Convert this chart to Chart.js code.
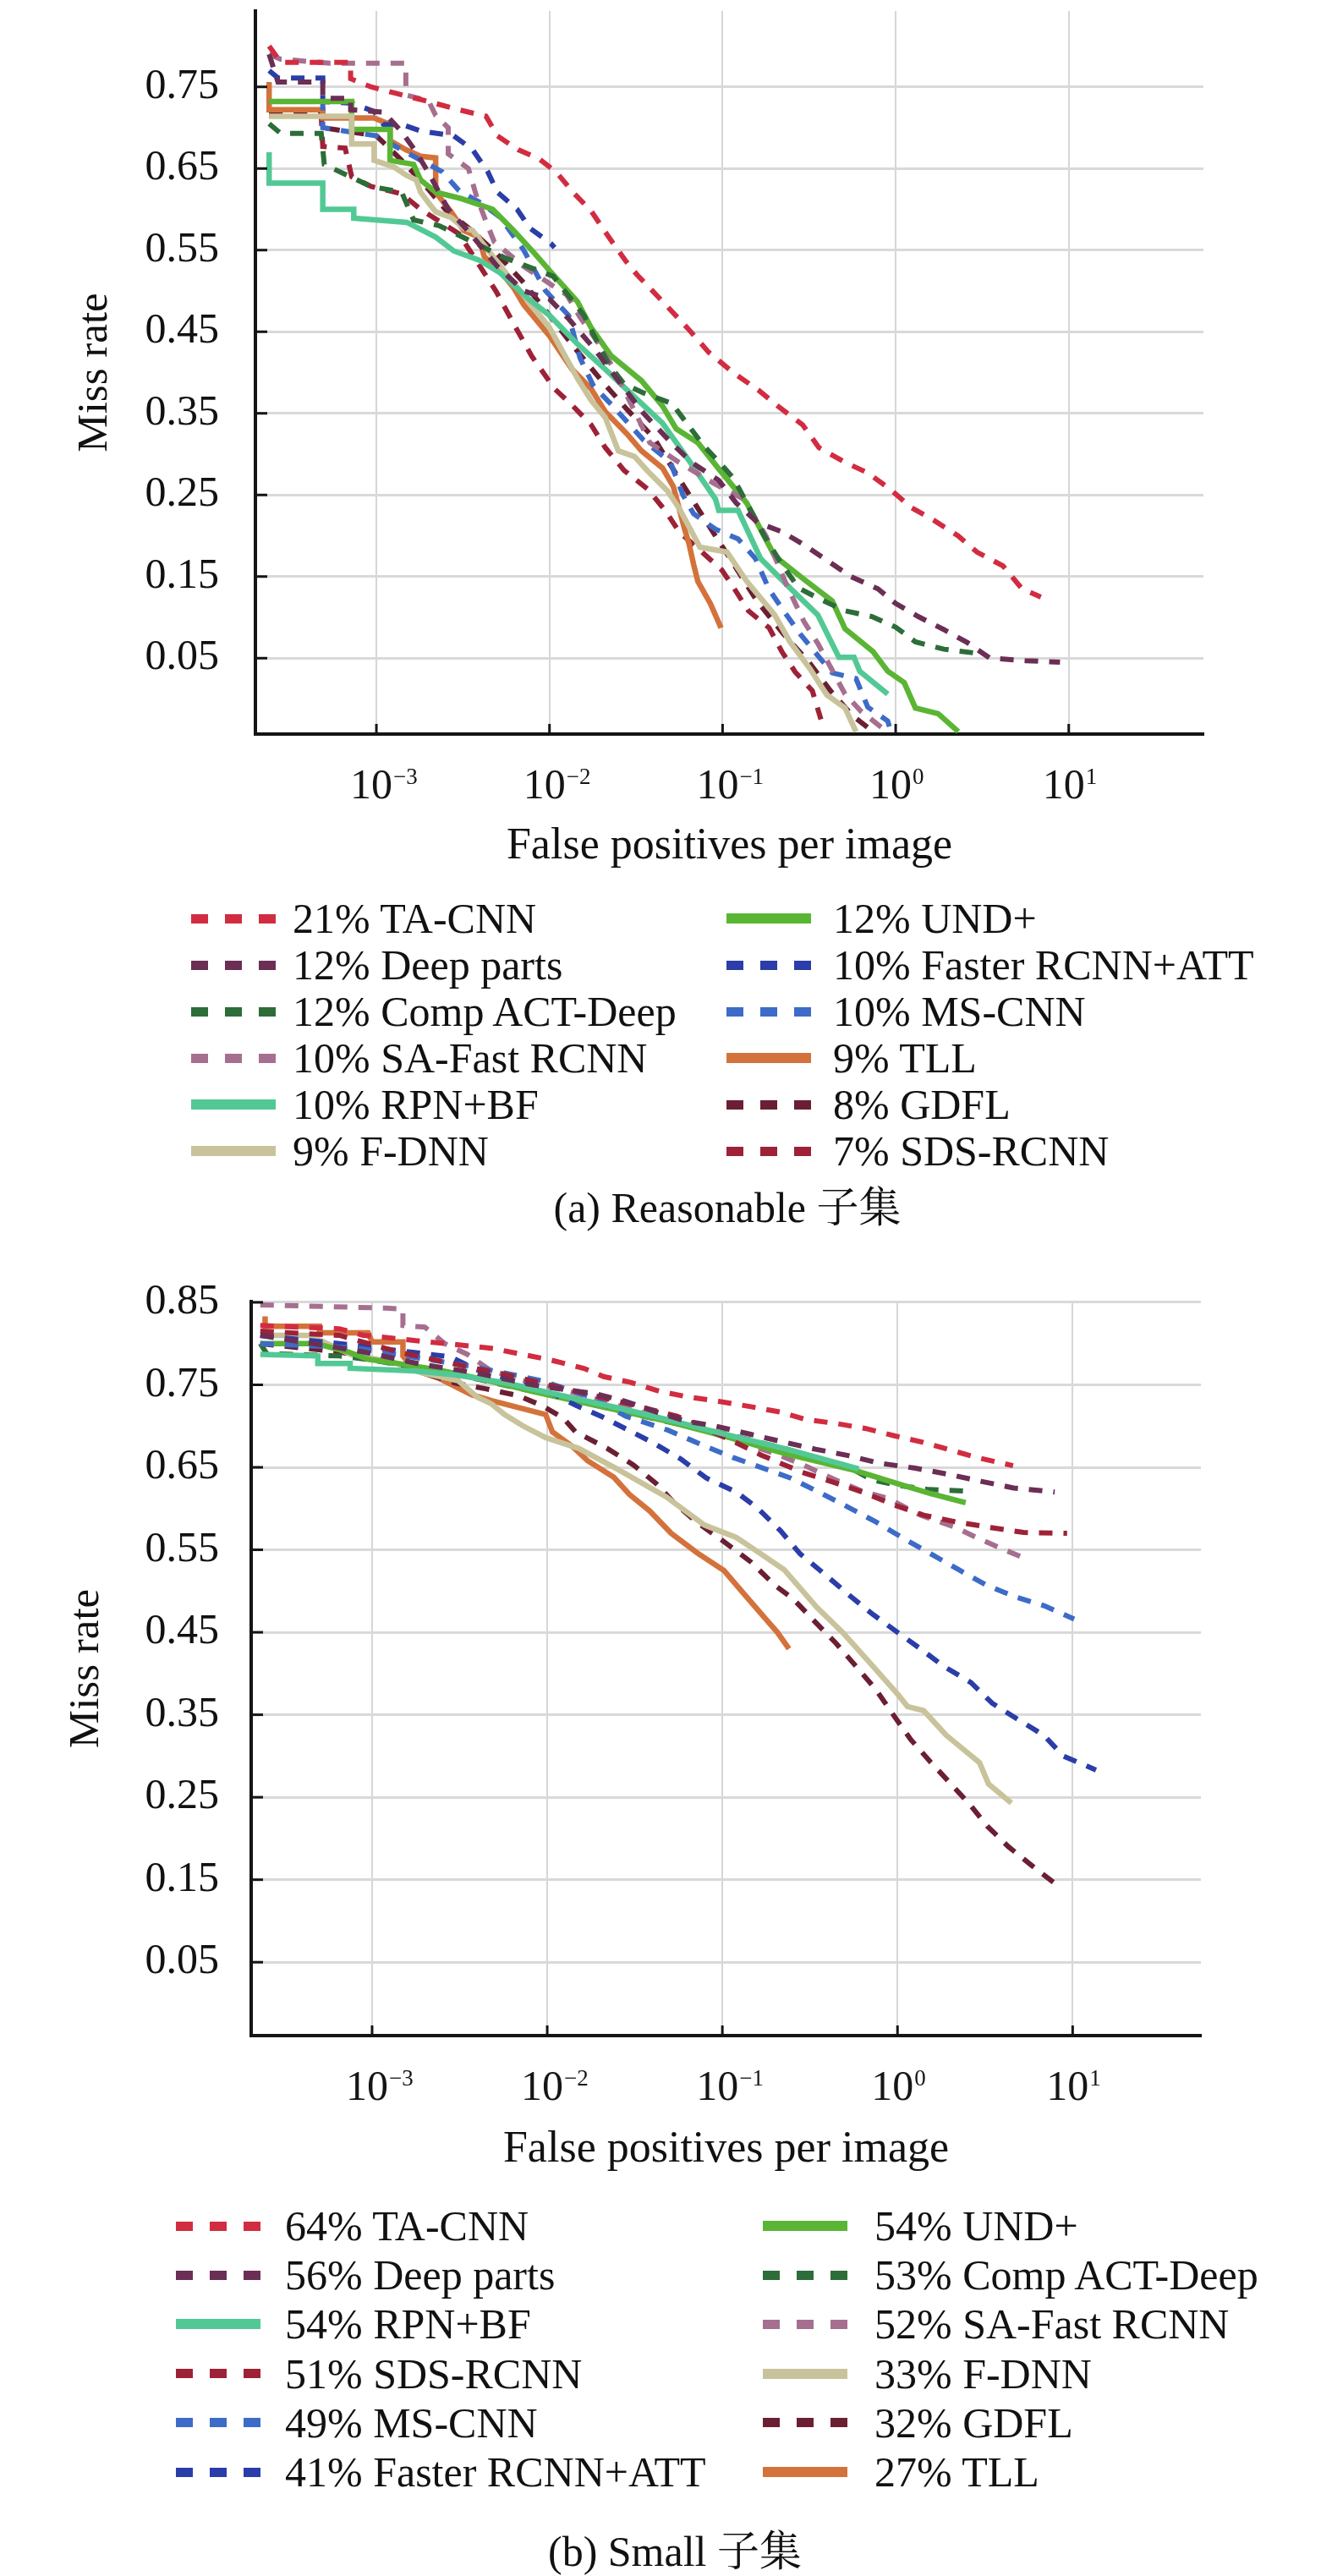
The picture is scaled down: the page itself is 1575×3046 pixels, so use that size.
<!DOCTYPE html>
<html>
<head>
<meta charset="utf-8">
<script src="https://cdn.jsdelivr.net/npm/chart.js@4.4.1/dist/chart.umd.min.js"></script>
<style>
  body { margin: 0; background: #fff; }
  #page { position: relative; width: 1575px; height: 3046px; overflow: hidden;
          font-family: "Liberation Serif", "Times New Roman", "Noto Serif CJK SC", "Noto Sans CJK SC", serif; color: #111; }
  .plot { position: absolute; left: 0; }
  .txt { position: absolute; height: 60px; line-height: 60px; font-size: 50px; white-space: nowrap; }
  .cap { transform: translateX(-50%); }
</style>
</head>
<body>
<div id="page">
  <div class="plot" style="top:0"><canvas id="reasonable" width="1575" height="1040"></canvas></div>
  <div class="plot" style="top:1500px"><canvas id="small" width="1575" height="1100"></canvas></div>
</div>
<script>
// ---- tick values / labels ----
const xTickVals = [0.001, 0.01, 0.1, 1, 10];
const xTickBase = '10';
const xTickExps = ['\u22123', '\u22122', '\u22121', '0', '1'];
const reasonableYTicks = [0.05, 0.15, 0.25, 0.35, 0.45, 0.55, 0.65, 0.75];
const smallYTicks = [0.05, 0.15, 0.25, 0.35, 0.45, 0.55, 0.65, 0.75, 0.85];

// ---- (a) Reasonable subset: [false positives per image, miss rate] ----
const rTaCnn = [[0.00024,0.80],[0.00028,0.78],[0.00071,0.78],[0.00071,0.76],[0.00093,0.75],[0.0013,0.742],[0.002,0.732],[0.003,0.722],[0.0043,0.714],[0.005,0.69],[0.0066,0.673],[0.0087,0.662],[0.011,0.645],[0.0138,0.62],[0.0174,0.598],[0.022,0.566],[0.0275,0.537],[0.032,0.52],[0.046,0.485],[0.063,0.454],[0.083,0.425],[0.115,0.40],[0.162,0.378],[0.214,0.357],[0.29,0.336],[0.36,0.308],[0.51,0.29],[0.69,0.277],[0.93,0.257],[1.22,0.235],[1.66,0.219],[2.29,0.20],[2.95,0.18],[4.17,0.163],[5.37,0.135],[6.9,0.125]];
const rDeepParts = [[0.00024,0.79],[0.00027,0.756],[0.00049,0.756],[0.00049,0.736],[0.00071,0.736],[0.00071,0.722],[0.0011,0.719],[0.0014,0.695],[0.0017,0.67],[0.002,0.645],[0.0026,0.60],[0.0035,0.57],[0.005,0.53],[0.0071,0.50],[0.01,0.49],[0.013,0.465],[0.018,0.43],[0.025,0.39],[0.035,0.35],[0.05,0.315],[0.066,0.29],[0.095,0.268],[0.12,0.24],[0.16,0.216],[0.22,0.205],[0.3,0.188],[0.4,0.17],[0.55,0.15],[0.79,0.135],[1.0,0.117],[1.35,0.101],[1.9,0.085],[2.6,0.069],[3.5,0.05],[5.6,0.047],[8.9,0.045]];
const rCompAct = [[0.00024,0.705],[0.00028,0.693],[0.00048,0.693],[0.0005,0.655],[0.00093,0.628],[0.0014,0.621],[0.00164,0.587],[0.0023,0.58],[0.0036,0.56],[0.0056,0.54],[0.0105,0.518],[0.0158,0.47],[0.022,0.41],[0.027,0.386],[0.035,0.375],[0.051,0.362],[0.078,0.31],[0.093,0.293],[0.116,0.27],[0.174,0.20],[0.22,0.165],[0.275,0.136],[0.36,0.123],[0.51,0.108],[0.73,0.101],[1.0,0.088],[1.3,0.07],[1.9,0.061],[2.95,0.056]];
const rSaFast = [[0.00024,0.79],[0.00028,0.784],[0.00054,0.779],[0.00148,0.779],[0.00148,0.74],[0.002,0.733],[0.0022,0.715],[0.0026,0.70],[0.0026,0.668],[0.0034,0.65],[0.0038,0.615],[0.0043,0.585],[0.0048,0.56],[0.0071,0.53],[0.0126,0.495],[0.015,0.468],[0.019,0.437],[0.023,0.408],[0.032,0.347],[0.038,0.314],[0.056,0.29],[0.091,0.263],[0.132,0.245],[0.178,0.20],[0.234,0.14],[0.295,0.095],[0.355,0.068],[0.51,0.006],[0.63,-0.015],[0.89,-0.04]];
const rRpnBf = [[0.00024,0.67],[0.00024,0.632],[0.00049,0.632],[0.00049,0.60],[0.00074,0.60],[0.00074,0.589],[0.0015,0.584],[0.0022,0.566],[0.0028,0.549],[0.0039,0.538],[0.0052,0.522],[0.0076,0.49],[0.01,0.47],[0.0145,0.435],[0.021,0.404],[0.031,0.37],[0.045,0.338],[0.065,0.29],[0.091,0.245],[0.095,0.231],[0.123,0.231],[0.13,0.22],[0.166,0.172],[0.24,0.138],[0.355,0.103],[0.47,0.051],[0.575,0.051],[0.62,0.034],[0.9,0.006]];
const rFdnn = [[0.00024,0.714],[0.00072,0.714],[0.00072,0.68],[0.00097,0.68],[0.00097,0.66],[0.00126,0.652],[0.00148,0.642],[0.0017,0.636],[0.0018,0.621],[0.002,0.608],[0.0022,0.597],[0.0027,0.59],[0.0032,0.577],[0.0036,0.574],[0.0057,0.52],[0.01,0.455],[0.0145,0.393],[0.0174,0.366],[0.021,0.345],[0.025,0.304],[0.031,0.297],[0.037,0.279],[0.048,0.255],[0.056,0.234],[0.074,0.186],[0.106,0.18],[0.137,0.145],[0.2,0.103],[0.245,0.07],[0.32,0.037],[0.4,0.005],[0.51,-0.011],[0.59,-0.04]];
const rUnd = [[0.00024,0.732],[0.00072,0.732],[0.00072,0.698],[0.0012,0.698],[0.0012,0.66],[0.00164,0.655],[0.0018,0.636],[0.0022,0.621],[0.0031,0.613],[0.0047,0.60],[0.0062,0.574],[0.0082,0.546],[0.01,0.525],[0.0145,0.487],[0.0174,0.455],[0.0226,0.421],[0.034,0.39],[0.045,0.359],[0.054,0.331],[0.072,0.314],[0.095,0.282],[0.138,0.24],[0.2,0.175],[0.29,0.148],[0.43,0.12],[0.51,0.086],[0.74,0.058],[0.9,0.034],[1.12,0.02],[1.3,-0.011],[1.76,-0.018],[2.3,-0.04]];
const rFasterAtt = [[0.00024,0.77],[0.00027,0.761],[0.00049,0.761],[0.00049,0.732],[0.00072,0.73],[0.00097,0.72],[0.0011,0.704],[0.0014,0.704],[0.0018,0.696],[0.0028,0.69],[0.0036,0.673],[0.0044,0.646],[0.005,0.621],[0.0065,0.60],[0.0077,0.577],[0.0102,0.558],[0.0107,0.553]];
const rMsCnn = [[0.00024,0.732],[0.00049,0.732],[0.00049,0.70],[0.001,0.69],[0.0017,0.663],[0.0024,0.646],[0.003,0.623],[0.004,0.608],[0.0052,0.59],[0.0071,0.55],[0.0095,0.50],[0.0129,0.47],[0.015,0.418],[0.018,0.383],[0.023,0.36],[0.035,0.317],[0.05,0.29],[0.059,0.25],[0.068,0.227],[0.091,0.208],[0.123,0.196],[0.155,0.172],[0.186,0.134],[0.234,0.103],[0.28,0.08],[0.34,0.058],[0.43,0.032],[0.59,0.025],[0.69,-0.01],[0.9,-0.027],[0.95,-0.044]];
const rTll = [[0.00024,0.756],[0.00024,0.722],[0.00049,0.722],[0.00049,0.712],[0.00097,0.712],[0.0012,0.704],[0.0012,0.684],[0.00148,0.673],[0.0018,0.665],[0.0022,0.663],[0.0022,0.621],[0.0027,0.597],[0.0032,0.574],[0.0039,0.566],[0.0042,0.542],[0.005,0.528],[0.0062,0.504],[0.0071,0.483],[0.01,0.445],[0.0135,0.404],[0.0174,0.38],[0.021,0.352],[0.028,0.325],[0.034,0.304],[0.045,0.283],[0.052,0.26],[0.056,0.234],[0.06,0.21],[0.064,0.19],[0.068,0.165],[0.072,0.144],[0.085,0.117],[0.098,0.087]];
const rGdfl = [[0.00024,0.72],[0.00049,0.72],[0.00049,0.70],[0.001,0.69],[0.0014,0.66],[0.0019,0.63],[0.0025,0.60],[0.0035,0.575],[0.005,0.545],[0.0071,0.51],[0.01,0.47],[0.014,0.43],[0.02,0.39],[0.028,0.355],[0.04,0.32],[0.056,0.27],[0.079,0.22],[0.112,0.17],[0.158,0.12],[0.224,0.08],[0.316,0.045],[0.42,0.01],[0.56,-0.02],[0.74,-0.04]];
const rSdsRcnn = [[0.00024,0.715],[0.00048,0.715],[0.00049,0.677],[0.00066,0.675],[0.00072,0.64],[0.00093,0.628],[0.0014,0.619],[0.0018,0.60],[0.003,0.57],[0.0049,0.50],[0.0062,0.46],[0.0079,0.42],[0.0107,0.38],[0.0135,0.36],[0.0174,0.336],[0.021,0.308],[0.027,0.28],[0.037,0.257],[0.047,0.23],[0.056,0.205],[0.076,0.18],[0.099,0.158],[0.117,0.135],[0.141,0.108],[0.186,0.087],[0.22,0.058],[0.263,0.033],[0.33,0.01],[0.37,-0.025]];

const reasonableNames = ['TA-CNN', 'Deep parts', 'Comp ACT-Deep', 'SA-Fast RCNN', 'RPN+BF', 'F-DNN',
                         'UND+', 'Faster RCNN+ATT', 'MS-CNN', 'TLL', 'GDFL', 'SDS-RCNN'];
const reasonableRates = [21, 12, 12, 10, 10, 9, 12, 10, 10, 9, 8, 7];
const reasonableSeries = [rTaCnn, rDeepParts, rCompAct, rSaFast, rRpnBf, rFdnn,
                          rUnd, rFasterAtt, rMsCnn, rTll, rGdfl, rSdsRcnn];

// ---- (b) Small subset ----
const sTaCnn = [[0.00023,0.822],[0.00065,0.818],[0.00089,0.81],[0.0014,0.806],[0.0021,0.802],[0.0033,0.798],[0.0049,0.794],[0.0072,0.787],[0.0105,0.78],[0.0162,0.77],[0.021,0.76],[0.03,0.753],[0.044,0.742],[0.065,0.735],[0.095,0.73],[0.141,0.724],[0.214,0.717],[0.30,0.708],[0.45,0.703],[0.66,0.697],[0.97,0.688],[1.36,0.681],[2.0,0.671],[2.95,0.661],[4.57,0.652]];
const sDeepParts = [[0.00023,0.81],[0.00046,0.80],[0.00089,0.79],[0.0019,0.775],[0.0038,0.765],[0.0083,0.75],[0.0129,0.744],[0.019,0.739],[0.028,0.73],[0.042,0.717],[0.062,0.706],[0.091,0.70],[0.145,0.69],[0.22,0.681],[0.34,0.672],[0.53,0.664],[0.79,0.655],[1.26,0.649],[1.9,0.642],[3.0,0.633],[4.6,0.625],[7.9,0.62]];
const sRpnBf = [[0.00023,0.787],[0.00049,0.785],[0.00049,0.776],[0.00075,0.776],[0.00075,0.77],[0.00174,0.767],[0.003,0.762],[0.0059,0.752],[0.0115,0.738],[0.028,0.72],[0.055,0.705],[0.095,0.692],[0.234,0.672],[0.6,0.648]];
const sSdsRcnn = [[0.00023,0.815],[0.00065,0.81],[0.0014,0.79],[0.003,0.775],[0.0059,0.762],[0.0129,0.745],[0.028,0.728],[0.055,0.712],[0.107,0.685],[0.166,0.665],[0.285,0.644],[0.43,0.632],[0.65,0.619],[0.94,0.605],[1.41,0.592],[2.14,0.584],[3.4,0.577],[5.25,0.571],[9.3,0.57]];
const sMsCnn = [[0.00023,0.80],[0.0008,0.795],[0.00155,0.785],[0.0038,0.772],[0.0093,0.755],[0.018,0.735],[0.028,0.712],[0.049,0.695],[0.077,0.677],[0.115,0.662],[0.151,0.653],[0.245,0.637],[0.363,0.619],[0.53,0.601],[0.75,0.584],[1.1,0.563],[1.58,0.544],[2.23,0.526],[3.16,0.508],[4.68,0.493],[6.9,0.482],[10.2,0.466]];
const sFasterAtt = [[0.00023,0.81],[0.00065,0.80],[0.00123,0.793],[0.0028,0.784],[0.004,0.768],[0.0058,0.758],[0.0079,0.748],[0.0111,0.738],[0.0146,0.725],[0.0207,0.711],[0.0285,0.696],[0.04,0.68],[0.058,0.66],[0.081,0.637],[0.12,0.62],[0.158,0.601],[0.215,0.573],[0.278,0.545],[0.376,0.522],[0.53,0.495],[0.71,0.473],[0.955,0.453],[1.35,0.43],[1.86,0.408],[2.63,0.389],[3.47,0.364],[4.9,0.344],[6.85,0.325],[8.85,0.30],[13.6,0.283]];
const sUnd = [[0.00023,0.80],[0.00048,0.80],[0.00073,0.79],[0.00095,0.781],[0.0015,0.775],[0.0024,0.768],[0.004,0.758],[0.0087,0.741],[0.02,0.724],[0.048,0.706],[0.11,0.686],[0.224,0.667],[0.575,0.646],[1.01,0.63],[1.55,0.618],[2.45,0.607]];
const sCompAct = [[0.00023,0.80],[0.00025,0.788],[0.00065,0.785],[0.001,0.78],[0.0019,0.77],[0.0038,0.758],[0.0083,0.742],[0.02,0.724],[0.049,0.705],[0.107,0.69],[0.234,0.672],[0.51,0.652],[0.71,0.635],[1.02,0.628],[1.51,0.623],[2.57,0.621]];
const sSaFast = [[0.00023,0.847],[0.0012,0.843],[0.0015,0.842],[0.0015,0.822],[0.002,0.82],[0.0026,0.80],[0.0035,0.787],[0.0047,0.768],[0.0074,0.755],[0.0145,0.74],[0.028,0.722],[0.055,0.705],[0.11,0.685],[0.21,0.665],[0.31,0.65],[0.43,0.636],[0.63,0.621],[0.89,0.612],[1.35,0.592],[2.1,0.578],[2.95,0.563],[4.07,0.55],[5.3,0.54]];
const sFdnn = [[0.00023,0.81],[0.00044,0.81],[0.00077,0.786],[0.0013,0.778],[0.0019,0.765],[0.0031,0.755],[0.004,0.735],[0.0048,0.727],[0.0057,0.714],[0.0073,0.70],[0.0098,0.686],[0.0151,0.673],[0.025,0.648],[0.048,0.614],[0.079,0.58],[0.12,0.565],[0.146,0.553],[0.225,0.526],[0.347,0.48],[0.485,0.45],[0.716,0.41],[1.01,0.374],[1.14,0.36],[1.41,0.355],[1.9,0.325],[2.94,0.292],[3.31,0.266],[4.47,0.243]];
const sGdfl = [[0.00023,0.80],[0.00065,0.79],[0.0014,0.775],[0.003,0.752],[0.0045,0.745],[0.0068,0.737],[0.0093,0.725],[0.0123,0.71],[0.0145,0.693],[0.022,0.673],[0.031,0.653],[0.042,0.63],[0.053,0.607],[0.072,0.583],[0.102,0.56],[0.146,0.535],[0.197,0.508],[0.255,0.49],[0.337,0.463],[0.444,0.437],[0.573,0.41],[0.75,0.381],[0.946,0.35],[1.19,0.32],[1.54,0.293],[2.0,0.267],[2.57,0.242],[3.25,0.215],[4.3,0.19],[5.86,0.167],[8.2,0.143]];
const sTll = [[0.000245,0.833],[0.000245,0.821],[0.0005,0.821],[0.0005,0.813],[0.00095,0.813],[0.001,0.802],[0.0015,0.802],[0.0015,0.785],[0.00174,0.768],[0.0024,0.758],[0.0037,0.738],[0.0048,0.731],[0.0098,0.714],[0.0107,0.693],[0.0138,0.676],[0.017,0.658],[0.024,0.638],[0.0295,0.617],[0.0385,0.597],[0.051,0.57],[0.072,0.546],[0.102,0.525],[0.136,0.494],[0.182,0.463],[0.206,0.45],[0.24,0.43]];

const smallNames = ['TA-CNN', 'Deep parts', 'RPN+BF', 'SDS-RCNN', 'MS-CNN', 'Faster RCNN+ATT',
                    'UND+', 'Comp ACT-Deep', 'SA-Fast RCNN', 'F-DNN', 'GDFL', 'TLL'];
const smallRates = [64, 56, 54, 51, 49, 41, 54, 53, 52, 33, 32, 27];
const smallSeries = [sTaCnn, sDeepParts, sRpnBf, sSdsRcnn, sMsCnn, sFasterAtt,
                     sUnd, sCompAct, sSaFast, sFdnn, sGdfl, sTll];

// ---- styles per method ----
const styles = {
  'TA-CNN':          { color: '#d22c41', dash: true },
  'Deep parts':      { color: '#6b2e55', dash: true },
  'Comp ACT-Deep':   { color: '#2d6d39', dash: true },
  'SA-Fast RCNN':    { color: '#a66f90', dash: true },
  'RPN+BF':          { color: '#52c995', dash: false },
  'F-DNN':           { color: '#c8c39b', dash: false },
  'UND+':            { color: '#5ab534', dash: false },
  'Faster RCNN+ATT': { color: '#2b3da8', dash: true },
  'MS-CNN':          { color: '#3d6bc8', dash: true },
  'TLL':             { color: '#d4723c', dash: false },
  'GDFL':            { color: '#6b1f33', dash: true },
  'SDS-RCNN':        { color: '#9e2237', dash: true }
};

const SERIF = '"Liberation Serif", "Times New Roman", serif';
Chart.defaults.font.family = SERIF;
Chart.defaults.color = '#111';

// inner tick marks + "10^n" x labels
const axisDecor = {
  id: 'axisDecor',
  afterDraw(chart) {
    const { ctx, chartArea: a, scales: { x, y } } = chart;
    ctx.save();
    ctx.strokeStyle = '#151515';
    ctx.lineWidth = 3;
    y.ticks.forEach(t => {
      const py = y.getPixelForValue(t.value);
      ctx.beginPath(); ctx.moveTo(a.left, py); ctx.lineTo(a.left + 14, py); ctx.stroke();
    });
    x.ticks.forEach(t => {
      const px = x.getPixelForValue(t.value);
      ctx.beginPath(); ctx.moveTo(px, a.bottom); ctx.lineTo(px, a.bottom - 12); ctx.stroke();
    });
    ctx.fillStyle = '#151515';
    ctx.textBaseline = 'alphabetic';
    ctx.textAlign = 'left';
    x.ticks.forEach((t, i) => {
      const px = x.getPixelForValue(t.value);
      const base = a.bottom + 76;
      ctx.font = '50px ' + SERIF;
      const w = ctx.measureText(xTickBase).width;
      ctx.fillText(xTickBase, px - 31, base);
      ctx.font = '27px ' + SERIF;
      ctx.fillText(xTickExps[i], px - 31 + w + 1, base - 17);
    });
    ctx.restore();
  }
};

function makeChart(id, names, series, yTicks, g) {
  const datasets = names.map((n, i) => ({
    label: n,
    data: series[i].map(([x, y]) => ({ x, y })),
    showLine: true,
    pointRadius: 0,
    borderColor: styles[n].color,
    borderWidth: styles[n].dash ? 6 : 6.5,
    borderDash: styles[n].dash ? [16, 13] : [],
    borderCapStyle: 'butt',
    tension: 0
  }));
  return new Chart(document.getElementById(id), {
    type: 'scatter',
    data: { datasets },
    plugins: [axisDecor],
    options: {
      responsive: false,
      animation: false,
      events: [],
      layout: { padding: { left: 0, top: g.top, right: 1575 - g.right, bottom: 0 } },
      plugins: { legend: { display: false }, tooltip: { enabled: false } },
      scales: {
        x: {
          type: 'logarithmic',
          min: g.xMin, max: g.xMax,
          afterBuildTicks: s => { s.ticks = xTickVals.map(v => ({ value: v })); },
          afterFit: s => { s.height = g.canvasH - g.bottom; s.paddingLeft = 0; s.paddingRight = 0; },
          ticks: { display: false },
          grid: { color: '#d6d6d6', lineWidth: 2, drawTicks: false },
          border: { color: '#151515', width: 4 },
          title: { display: true, text: 'False positives per image',
                   font: { size: 52 }, padding: { top: 0, bottom: g.xTitlePad } }
        },
        y: {
          min: g.yMin, max: g.yMax,
          afterBuildTicks: s => { s.ticks = yTicks.map(v => ({ value: v })); },
          afterFit: s => { s.width = g.left; s.paddingTop = 0; s.paddingBottom = 0; },
          ticks: { font: { size: 50 }, padding: g.yTickPad, callback: v => v.toFixed(2) },
          grid: { color: '#d9d9d9', lineWidth: 3, drawTicks: false },
          border: { color: '#151515', width: 4 },
          title: { display: true, text: 'Miss rate',
                   font: { size: 51 }, padding: { top: g.yTitlePad, bottom: 0 } }
        }
      }
    }
  });
}

function addLegend(names, rates, g) {
  const page = document.getElementById('page');
  names.forEach((n, i) => {
    const col = i < 6 ? 0 : 1;
    const cy = g.legTop + (i % 6) * g.legStep;
    const st = styles[n];
    const h = st.dash ? 11 : 12;
    const sw = document.createElement('div');
    sw.style.cssText = 'position:absolute;width:100px;left:' + g.swX[col] + 'px;top:' + (cy - h / 2) + 'px;height:' + h + 'px;background:' +
      (st.dash ? 'repeating-linear-gradient(90deg,' + st.color + ' 0 20px,transparent 20px 40px)' : st.color);
    page.appendChild(sw);
    const tx = document.createElement('div');
    tx.className = 'txt';
    tx.style.left = g.txtX[col] + 'px';
    tx.style.top = (cy - 30) + 'px';
    tx.textContent = rates[i] + '% ' + n;
    page.appendChild(tx);
  });
  const cap = document.createElement('div');
  cap.className = 'txt cap';
  cap.style.left = g.capX + 'px';
  cap.style.top = (g.capY - 30) + 'px';
  cap.textContent = g.caption;
  page.appendChild(cap);
}

const reasonableGeom = {
  left: 302, right: 1423, top: 13, bottom: 868, canvasH: 1040,
  xMin: 0.0002, xMax: 60, yMin: -0.043, yMax: 0.843,
  yTickPad: 43, yTitlePad: 82, xTitlePad: 7,
  legTop: 1086, legStep: 55, swX: [226, 859], txtX: [346, 985],
  capX: 860, capY: 1428, caption: '(a) Reasonable 子集'
};
const smallGeom = {
  left: 297, right: 1420, top: 39, bottom: 907, canvasH: 1100,
  xMin: 0.000204, xMax: 54, yMin: -0.039, yMax: 0.851,
  yTickPad: 38, yTitlePad: 72, xTitlePad: 26,
  legTop: 2632, legStep: 58.2, swX: [208, 902], txtX: [337, 1034],
  capX: 798, capY: 3017, caption: '(b) Small 子集'
};

makeChart('reasonable', reasonableNames, reasonableSeries, reasonableYTicks, reasonableGeom);
makeChart('small', smallNames, smallSeries, smallYTicks, smallGeom);
addLegend(reasonableNames, reasonableRates, reasonableGeom);
addLegend(smallNames, smallRates, smallGeom);
</script>
</body>
</html>
